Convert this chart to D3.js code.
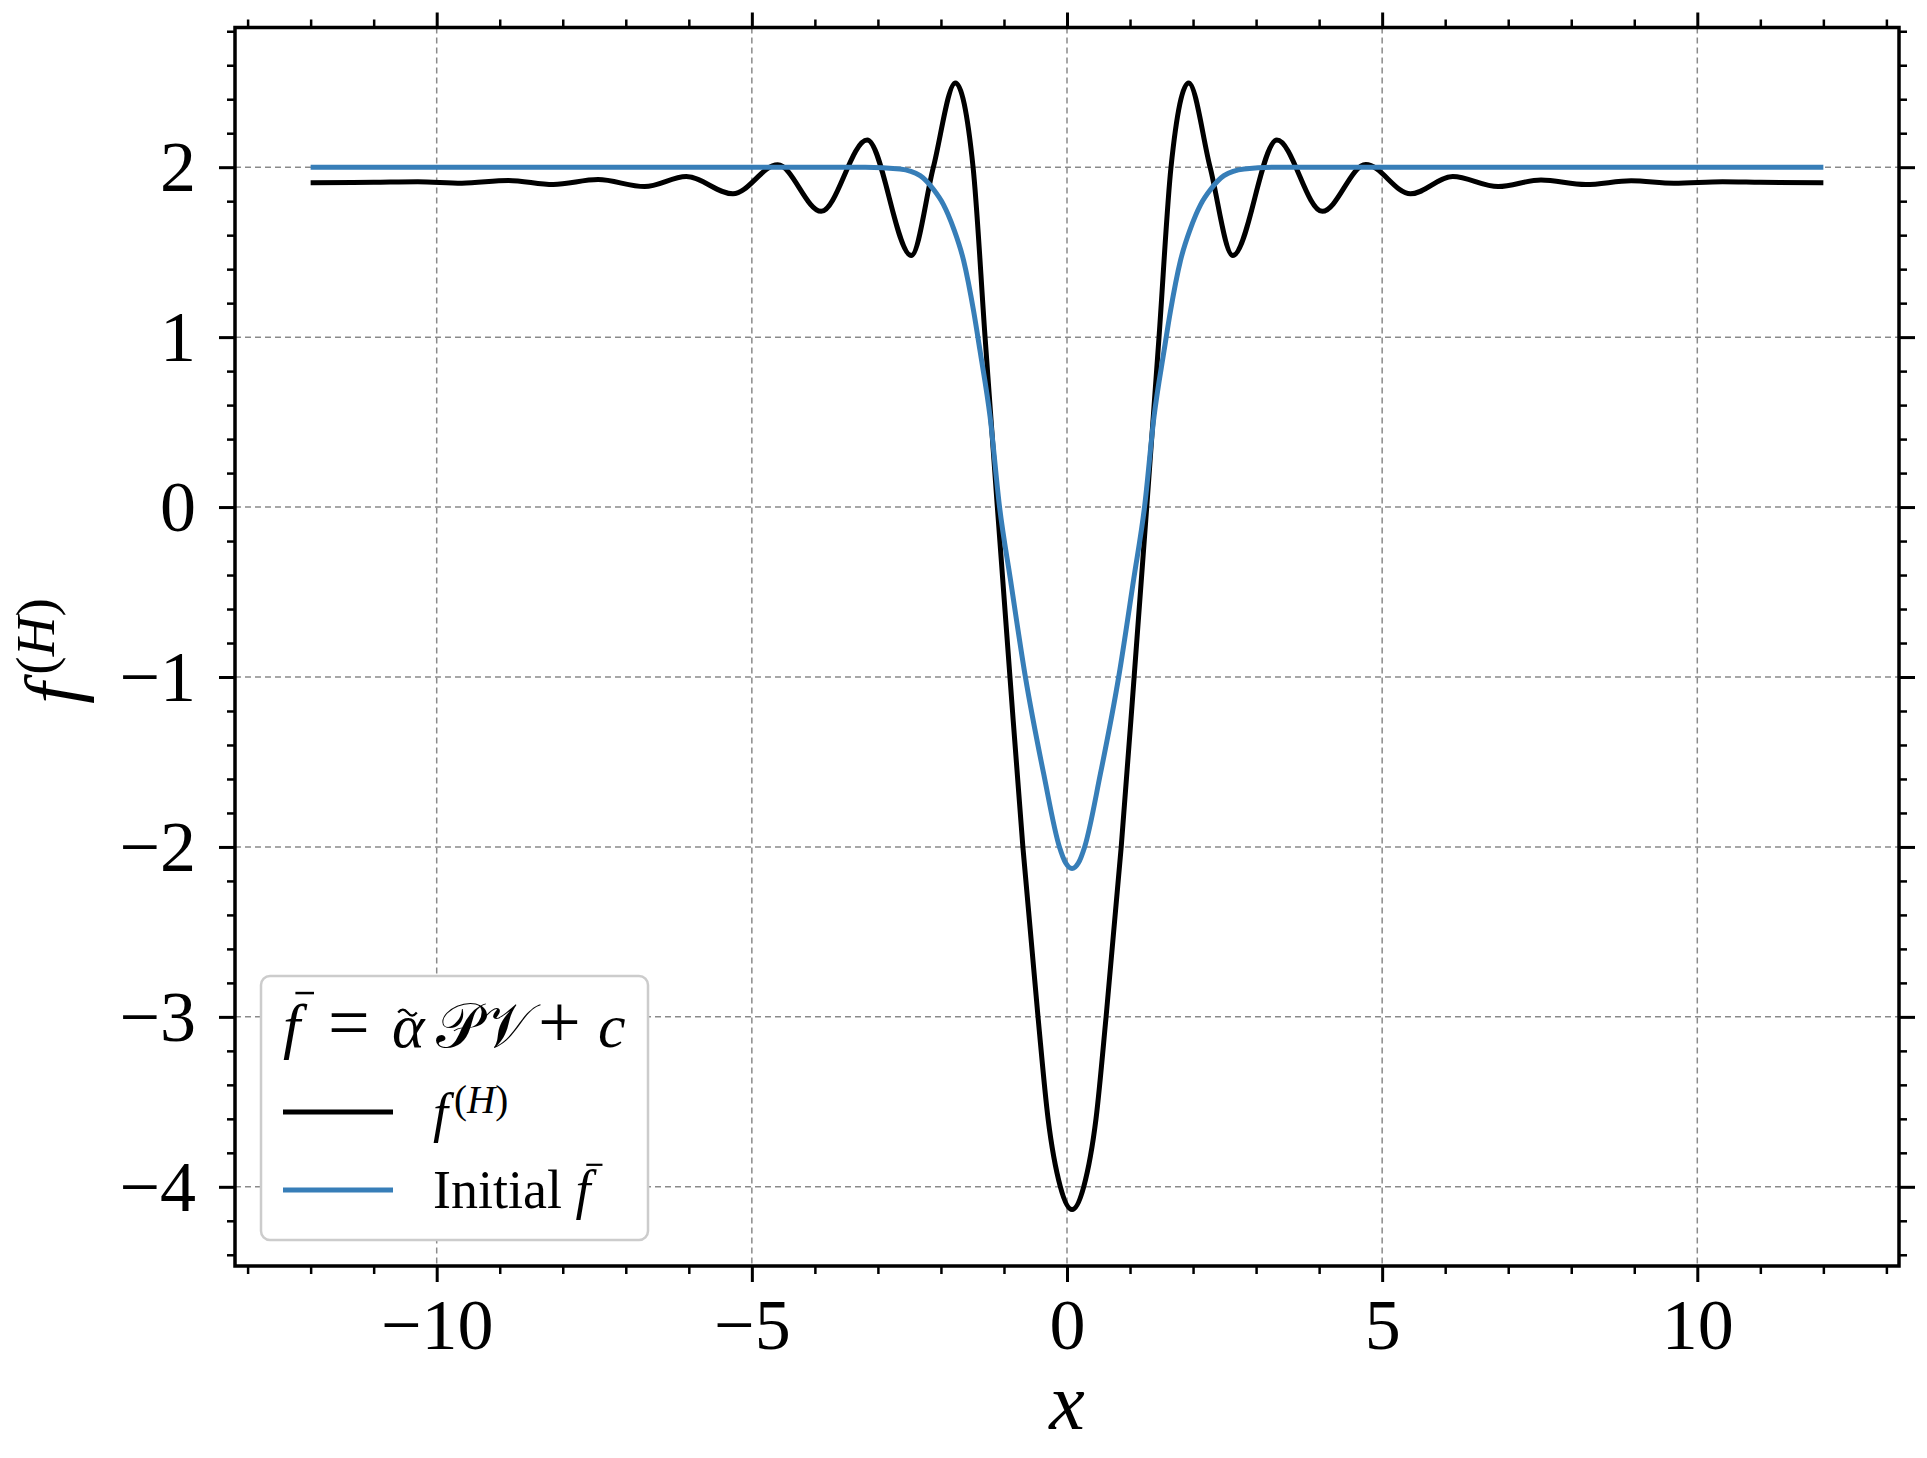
<!DOCTYPE html>
<html>
<head>
<meta charset="utf-8">
<script src="https://cdn.jsdelivr.net/npm/d3@7/dist/d3.min.js"></script>
<style>
  body { margin: 0; background: #fff; }
  svg { display: block; font-family: "Liberation Serif", "DejaVu Serif", serif; }
</style>
</head>
<body>
<script>
// f^(H) (x, value)
var hX = [-12.0, -11.0, -10.3, -9.6, -8.86, -8.15, -7.44, -6.70, -6.04, -5.30, -4.59, -3.90, -3.17,
          -2.47, -2.12, -1.77, -1.49, -1.30, -1.105, -0.905, -0.70, -0.46, -0.30, -0.105,
          0.08, 0.265, 0.46, 0.62, 0.86, 1.065, 1.265, 1.46, 1.65, 1.93, 2.27, 2.63,
          3.33, 4.05, 4.74, 5.45, 6.12, 6.84, 7.52, 8.23, 8.95, 9.63, 10.4, 11.0, 12.0];
var hY = [1.908, 1.911, 1.914, 1.906, 1.922, 1.898, 1.927, 1.886, 1.945, 1.843, 2.014, 1.740, 2.160,
          1.480, 2.000, 2.496, 2.000, 1.000, 0.000, -1.000, -2.000, -3.000, -3.600, -4.000,
          -4.134, -4.000, -3.600, -3.000, -2.000, -1.000, 0.000, 1.000, 2.000, 2.496, 2.000, 1.480,
          2.160, 1.740, 2.016, 1.843, 1.945, 1.886, 1.925, 1.898, 1.920, 1.906, 1.914, 1.911, 1.908];

// initial f-bar
var initX = [-12.0, -3.20, -2.65, -2.33, -2.12, -1.96, -1.80, -1.64, -1.48, -1.38, -1.22, -1.07, -0.90,
             -0.66, -0.37, -0.12, -0.02, 0.08, 0.18, 0.28, 0.53, 0.82, 1.06, 1.23, 1.38, 1.54, 1.64,
             1.80, 1.96, 2.12, 2.28, 2.49, 2.81, 3.36, 12.0];
var initY = [2.000, 2.000, 1.990, 1.950, 1.870, 1.780, 1.640, 1.450, 1.150, 0.920, 0.530, 0.000, -0.420,
             -1.000, -1.570, -2.000, -2.095, -2.127, -2.095, -2.000, -1.570, -1.000, -0.420, 0.000, 0.530, 0.920, 1.150,
             1.450, 1.640, 1.780, 1.870, 1.950, 1.990, 2.000, 2.000];

var xTicks = [-10, -5, 0, 5, 10];
var yTicks = [-4, -3, -2, -1, 0, 1, 2];

var W = 1927, H = 1458;
var pL = 235, pR = 1899, pT = 27.5, pB = 1266;

var svg = d3.select('body').append('svg').attr('width', W).attr('height', H);

var x = d3.scaleLinear().domain([-13.2, 13.2]).range([pL, pR]);
var y = d3.scaleLinear().domain([-4.466, 2.822]).range([pB, pT]);

var minorX = d3.range(-13, 14).filter(function (v) { return v % 5 !== 0; });
var minorY = d3.range(-22, 15).map(function (i) { return i / 5; })
  .filter(function (v) { return Math.abs(v - Math.round(v)) > 1e-6; });

// grid
var grid = svg.append('g').attr('stroke', '#8a8a8a').attr('stroke-width', 1.5).attr('stroke-dasharray', '6,4');
grid.selectAll('.gx').data(xTicks).enter().append('line')
  .attr('x1', function (d) { return x(d); }).attr('x2', function (d) { return x(d); })
  .attr('y1', pT).attr('y2', pB);
grid.selectAll('.gy').data(yTicks).enter().append('line')
  .attr('y1', function (d) { return y(d); }).attr('y2', function (d) { return y(d); })
  .attr('x1', pL).attr('x2', pR);

// curves
var line = d3.line().curve(d3.curveMonotoneX)
  .x(function (d) { return x(d[0]); }).y(function (d) { return y(d[1]); });

svg.append('path').datum(d3.zip(hX, hY))
  .attr('d', line).attr('fill', 'none').attr('stroke', '#000').attr('stroke-width', 5)
  .attr('stroke-linejoin', 'round');
svg.append('path').datum(d3.zip(initX, initY))
  .attr('d', line).attr('fill', 'none').attr('stroke', '#377eb8').attr('stroke-width', 5)
  .attr('stroke-linejoin', 'round');

// axes: major + minor ticks on all four sides
function addAxis(axis, tr, w) {
  var g = svg.append('g').attr('transform', tr).call(axis);
  g.select('.domain').remove();
  g.selectAll('line').attr('stroke-width', w);
  return g;
}
var fmt = d3.format('d');
var gb = addAxis(d3.axisBottom(x).tickValues(xTicks).tickSize(16).tickFormat(fmt), 'translate(0,' + pB + ')', 3);
gb.selectAll('text').attr('y', 83).attr('dy', 0).attr('font-size', 72).attr('fill', '#000')
  .style('font-family', '"Liberation Serif", serif');
addAxis(d3.axisBottom(x).tickValues(minorX).tickSize(8).tickFormat(''), 'translate(0,' + pB + ')', 2.5);
addAxis(d3.axisTop(x).tickValues(xTicks).tickSize(15).tickFormat(''), 'translate(0,' + pT + ')', 3);
addAxis(d3.axisTop(x).tickValues(minorX).tickSize(8).tickFormat(''), 'translate(0,' + pT + ')', 2.5);

var gl = addAxis(d3.axisLeft(y).tickValues(yTicks).tickSize(16).tickPadding(23).tickFormat(fmt), 'translate(' + pL + ',0)', 3);
gl.selectAll('text').attr('dy', '0.33em').attr('font-size', 72).attr('fill', '#000')
  .style('font-family', '"Liberation Serif", serif');
addAxis(d3.axisLeft(y).tickValues(minorY).tickSize(8).tickFormat(''), 'translate(' + pL + ',0)', 2.5);
addAxis(d3.axisRight(y).tickValues(yTicks).tickSize(16).tickFormat(''), 'translate(' + pR + ',0)', 3);
addAxis(d3.axisRight(y).tickValues(minorY).tickSize(8).tickFormat(''), 'translate(' + pR + ',0)', 2.5);

// spines
svg.append('rect').attr('x', pL).attr('y', pT).attr('width', pR - pL).attr('height', pB - pT)
  .attr('fill', 'none').attr('stroke', '#000').attr('stroke-width', 3.5);

// axis labels
svg.append('text').attr('x', (pL + pR) / 2).attr('y', 1429).attr('text-anchor', 'middle')
  .attr('font-size', 80).attr('font-style', 'italic').text('x');

var yl = svg.append('text').attr('transform', 'translate(78,651) rotate(-90)').attr('text-anchor', 'middle')
  .attr('font-size', 76);
yl.append('tspan').attr('font-style', 'italic').text('f');
var ys = yl.append('tspan').attr('font-size', 55).attr('dy', -24).attr('dx', 8);
ys.append('tspan').text('(');
ys.append('tspan').attr('font-style', 'italic').text('H');
ys.append('tspan').text(')');

// legend
var lg = svg.append('g');
lg.append('rect').attr('x', 261).attr('y', 976).attr('width', 387).attr('height', 264).attr('rx', 9)
  .attr('fill', '#fff').attr('stroke', '#cccccc').attr('stroke-width', 2.5);

// legend title: f-bar = alpha-tilde PV + c
var ts = 62, tb = 1047;
var titleParts = [
  { t: 'f', at: 283, it: true },
  { t: '=', at: 328, size: 74 },
  { t: 'α', at: 392, it: true },
  { t: '𝒫𝒱', at: 436 },
  { t: '+', at: 538, size: 76 },
  { t: 'c', at: 598, it: true }
];
titleParts.forEach(function (p) {
  lg.append('text').attr('x', p.at).attr('y', tb).attr('font-size', p.size || ts)
    .attr('font-style', p.it ? 'italic' : 'normal').text(p.t);
});
lg.append('line').attr('x1', 283 + 0.2 * ts).attr('x2', 283 + 0.5 * ts)
  .attr('y1', tb - 0.87 * ts).attr('y2', tb - 0.87 * ts).attr('stroke', '#000').attr('stroke-width', 2.5);
var tcx = 392 + 0.25 * ts, tcy = tb - 0.58 * ts, tw = 0.3 * ts;
lg.append('path')
  .attr('d', 'M' + (tcx - tw / 2) + ',' + (tcy + 1.5) + ' q' + (tw / 4) + ',-6 ' + (tw / 2) + ',0 t' + (tw / 2) + ',0')
  .attr('fill', 'none').attr('stroke', '#000').attr('stroke-width', 2.2);

// entries
var es = 54;
var entries = [
  { color: '#000', ly: 1112, base: 1131 },
  { color: '#377eb8', ly: 1190, base: 1208 }
];
entries.forEach(function (e) {
  lg.append('line').attr('x1', 283).attr('x2', 393).attr('y1', e.ly).attr('y2', e.ly)
    .attr('stroke', e.color).attr('stroke-width', 5);
});
var e1 = lg.append('text').attr('x', 433).attr('y', entries[0].base).attr('font-size', es);
e1.append('tspan').attr('font-style', 'italic').text('f');
var e1s = e1.append('tspan').attr('font-size', 39).attr('dy', -18).attr('dx', 6);
e1s.append('tspan').text('(');
e1s.append('tspan').attr('font-style', 'italic').text('H');
e1s.append('tspan').text(')');

var e2 = lg.append('text').attr('x', 433).attr('y', entries[1].base).attr('font-size', es);
e2.append('tspan').text('Initial ');
e2.append('tspan').attr('font-style', 'italic').text('f');
var fpos = e2.node().getStartPositionOfChar(8);
lg.append('line').attr('x1', fpos.x + 0.2 * es).attr('x2', fpos.x + 0.5 * es)
  .attr('y1', entries[1].base - 0.8 * es).attr('y2', entries[1].base - 0.8 * es)
  .attr('stroke', '#000').attr('stroke-width', 2.2);
</script>
</body>
</html>
